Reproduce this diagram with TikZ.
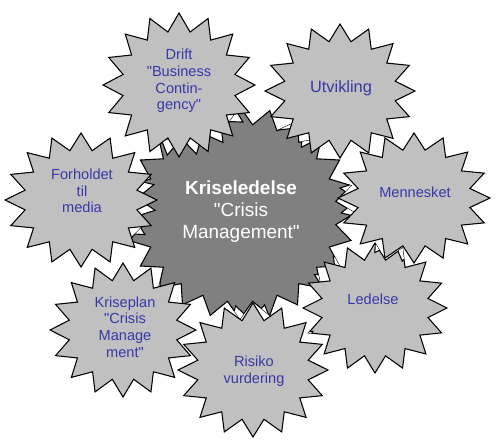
\documentclass[tikz,border=0pt]{standalone}
\usepackage{fontspec}
\setmainfont{Liberation Sans}
\definecolor{burstlight}{HTML}{C0C0C0}
\definecolor{burstdark}{HTML}{808080}
\definecolor{inkblue}{HTML}{3838A8}
% star outline: cx, cy, rx, ry, inner ratio, points, rotation
\newcommand\burst[7]{([shift={(#1,#2)}]#7:#3 and #4) \foreach \k [evaluate=\k as \aa using #7+(\k-0.5)*360/#6, evaluate=\k as \ab using #7+\k*360/#6, evaluate=\k as \rx using #5*#3, evaluate=\k as \ry using #5*#4] in {1,...,#6}{ -- ([shift={(#1,#2)}]\aa:{\rx} and {\ry}) -- ([shift={(#1,#2)}]\ab:#3 and #4)} -- cycle}
\newcommand\q{\textquotedbl}
\newcommand\pCore{\burst{240}{213}{115}{106}{0.84}{24}{0}}
\newcommand\pDrift{\burst{179}{85}{76}{72}{0.75}{16}{0}}
\newcommand\pUtv{\burst{340}{91}{75}{67}{0.75}{16}{0}}
\newcommand\pMedia{\burst{81}{200}{76}{67}{0.75}{16}{0}}
\newcommand\pLed{\burst{375}{308}{72}{65}{0.75}{16}{0}}
\newcommand\pMenn{\burst{414}{198}{76}{65}{0.75}{16}{0}}
\newcommand\pPlan{\burst{123}{330}{73}{67}{0.75}{16}{0}}
\newcommand\pRisk{\burst{253}{370}{75}{67}{0.75}{16}{0}}
% white halo behind each outer star
\newcommand\hDrift{\burst{179}{85}{75}{71}{0.75}{16}{9}}
\newcommand\hUtv{\burst{340}{91}{74}{66}{0.75}{16}{9}}
\newcommand\hMedia{\burst{81}{200}{75}{66}{0.75}{16}{9}}
\newcommand\hLed{\burst{375}{308}{71}{64}{0.75}{16}{9}}
\newcommand\hMenn{\burst{414}{198}{75}{64}{0.75}{16}{9}}
\newcommand\hPlan{\burst{123}{330}{72}{66}{0.75}{16}{9}}
\newcommand\hRisk{\burst{253}{370}{74}{66}{0.75}{16}{9}}
\begin{document}
\begin{tikzpicture}[x=0.02cm, y=-0.02cm,
    core/.style={draw=black, fill=burstdark, line width=0.6pt, line join=miter},
    petal/.style={core, fill=burstlight},
    halo/.style={core, fill=white},
    lbl/.style={align=center, text=inkblue, inner sep=0pt, font=\fontsize{8.3}{9.5}\selectfont},
    clbl/.style={lbl, text=white, font=\fontsize{10.8}{12.5}\selectfont}]
  \useasboundingbox (0,0) rectangle (500,447);
  % centre
  \path[core] \pCore;
  \node[clbl] (core) at (241,212) {\textbf{Kriseledelse}\\ \q Crisis\\ Management\q};
  % drift
  \begin{scope}
    \clip \pCore;
    \path[halo] \hDrift;
  \end{scope}
  \path[petal] \pDrift;
  \node[lbl] (drift) at (179,81) {Drift\\ \q Business\\ Contin-\\ gency\q};
  % utvikling
  \begin{scope}
    \clip \pCore \pDrift;
    \path[halo] \hUtv;
  \end{scope}
  \path[petal] \pUtv;
  \node[lbl, font=\fontsize{9.3}{11}\selectfont] (utv) at (341,88) {Utvikling};
  % media
  \begin{scope}
    \clip \pCore \pDrift;
    \path[halo] \hMedia;
  \end{scope}
  \path[petal] \pMedia;
  \node[lbl] (media) at (82,191) {Forholdet\\ til\\ media};
  % ledelse
  \begin{scope}
    \clip \pCore \pUtv;
    \path[halo] \hLed;
  \end{scope}
  \path[petal] \pLed;
  \node[lbl] (led) at (373,299) {Ledelse};
  % mennesket
  \begin{scope}
    \clip \pCore \pUtv \pLed;
    \path[halo] \hMenn;
  \end{scope}
  \path[petal] \pMenn;
  \node[lbl] (menn) at (415,192) {Mennesket};
  % kriseplan
  \begin{scope}
    \clip \pCore \pMedia;
    \path[halo] \hPlan;
  \end{scope}
  \path[petal] \pPlan;
  \node[lbl] (plan) at (125,327) {Kriseplan\\ \q Crisis\\ Manage\\ ment\q};
  % risiko
  \begin{scope}
    \clip \pCore \pPlan \pLed;
    \path[halo] \hRisk;
  \end{scope}
  \path[petal] \pRisk;
  \node[lbl] (risk) at (254,371) {Risiko\\ vurdering};
\end{tikzpicture}
\end{document}
